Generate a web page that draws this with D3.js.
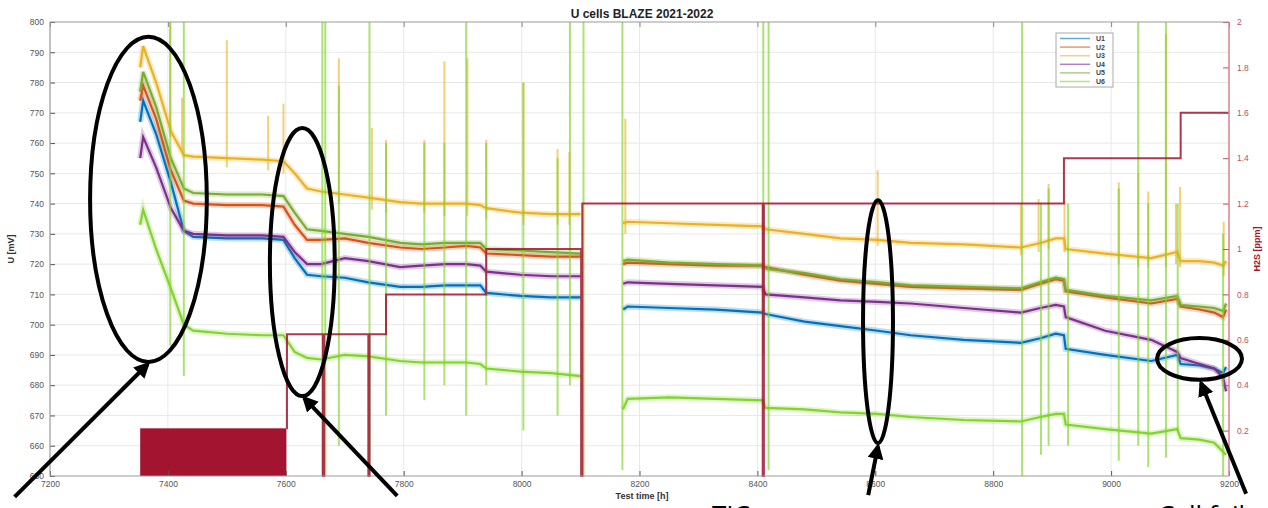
<!DOCTYPE html>
<html>
<head>
<meta charset="utf-8">
<script src="https://cdn.jsdelivr.net/npm/d3@7"></script>
<style>
html, body { margin: 0; padding: 0; background: #fff; }
svg { display: block; font-family: Arial, "Liberation Sans", sans-serif; }
</style>
</head>
<body>
<svg id="chart" width="1268" height="508"></svg>
<script>
// time axis (h), null = no data (stop 8100-8170 h)
const hours = [7353, 7358, 7380, 7405, 7427, 7443, 7500, 7560, 7596, 7615, 7636, 7660, 7700, 7740, 7794, 7830, 7870, 7906, 7930, 7940, 7998, 8050, 8100, null,
  8172, 8180, 8250, 8330, 8409, 8414, 8480, 8541, 8604, 8660, 8750, 8847, 8880, 8906, 8920, 8923, 8990, 9068, 9112, 9118, 9150, 9175, 9190, 9195];

const u1 = [767, 774, 763, 747, 731, 729, 728.5, 728.5, 728, 722, 716.5, 716, 715.5, 714, 712.5, 712.5, 713, 713, 713, 710.5, 709.5, 709, 709, null,
  705, 706, 705.5, 705, 704, 703.5, 701, 699.5, 698, 696.5, 695, 694, 695.5, 697, 696.5, 692, 690, 688, 690, 687, 686.5, 685.5, 684, 686];
const u2 = [774, 779, 768, 751, 741, 740, 739.5, 739.5, 739, 733, 728, 728, 728.5, 727, 725.5, 725, 725.5, 726, 725.5, 723.5, 723, 722.5, 722.5, null,
  720, 720.5, 720, 719.5, 719.5, 719, 716.5, 714.5, 713.5, 712.5, 712, 711.5, 713.5, 715, 714.5, 711, 709, 707, 708.5, 706, 705, 704, 702.5, 705];
const u3 = [785, 792, 780, 764, 756, 755.5, 755, 754.5, 754, 750, 745, 744, 743, 742, 740.5, 740, 740, 740, 739.5, 738.5, 737, 736.5, 736.5, null,
  733.5, 734, 733.5, 733, 732.5, 731.5, 730, 728.5, 728, 727, 726.5, 725.5, 727, 728.5, 728.5, 725, 723.5, 722, 724, 721, 721, 720.5, 719.5, 721];
const u4 = [755, 762, 752, 738.5, 731, 730, 729.5, 729.5, 729, 724, 720, 720, 722, 721, 719, 719.5, 720, 720, 719.5, 717.5, 716.5, 716, 716, null,
  713.5, 714, 713.5, 713, 712.5, 710, 709, 708, 707.5, 707, 705.5, 704, 705.5, 706.5, 706, 702.5, 698, 695, 691, 689, 687, 685.5, 682.5, 678];
const u5 = [777, 783.5, 772, 755, 745, 743.5, 743, 743, 742.5, 737, 731.5, 731, 730, 729, 727, 726.5, 727, 727, 727, 725, 724.5, 724, 723.5, null,
  721, 721.5, 720.5, 720, 719.5, 718.5, 717, 715, 714, 713, 712.5, 712, 714, 715.5, 715, 711.5, 709.5, 708, 709.5, 706.5, 706, 705.5, 704.5, 707];
const u6 = [733, 738, 725, 712, 700, 698, 697, 696.5, 696.5, 691, 689, 688.5, 690, 689.5, 688, 687.5, 687.5, 687.5, 687, 685.5, 684.5, 684, 683, null,
  672, 675.5, 676, 675.5, 675, 672.5, 672, 671, 670.5, 669.5, 668.5, 668, 669.5, 670.5, 670.5, 667, 665.5, 664, 665.5, 662.5, 662, 661, 658, 657];

const seriesNames = ['U1', 'U2', 'U3', 'U4', 'U5', 'U6'];
const seriesColors = ['#0072BD', '#D95319', '#EDB120', '#7E2F8E', '#77AC30', '#80D42A'];

// U6 disturbance spikes: hour, low, high (mV)
const u6SpikeHours = [7404, 7427, 7662, 7667, 7690, 7742, 7770, 7835, 7869, 7906, 7940, 8003, 8061, 8082, 8105, 8171, 8410, 8419, 8849, 8881, 8894, 8927, 9013, 9046, 9063, 9093, 9113, 9190];
const u6SpikeLow = [693, 683, 650, 650, 660, 650, 670, 675, 680, 670, 680, 665, 670, 680, 650, 652, 690, 652, 650, 657, 660, 660, 655, 660, 653, 656, 665, 650];
const u6SpikeHigh = [800, 800, 800, 800, 779, 800, 760, 760, 760, 800, 760, 780, 755, 800, 800, 800, 800, 800, 800, 740, 745, 740, 745, 800, 740, 800, 740, 730];

// U3 spikes: hour, low, high (mV)
const u3SpikeHours = [7404, 7424, 7500, 7570, 7596, 7690, 7746, 7770, 7835, 7869, 7908, 7940, 8003, 8061, 8081, 8176, 8604, 8847, 8877, 8894, 8921, 9013, 9046, 9063, 9093, 9110, 9117, 9191];
const u3SpikeLow = [762, 757, 752, 751, 750, 740, 738, 737, 737, 736, 736, 735, 733, 733, 733, 730, 726, 723, 724, 725, 724, 720, 719, 719, 719, 720, 719, 716];
const u3SpikeHigh = [800, 775, 794, 769, 773, 788, 765, 761, 761, 787, 788, 761, 780, 758, 757, 768, 751, 740, 741.5, 746.5, 741, 747, 750, 744, 796, 740, 745.5, 734];

// H2S dosing (ppm), step after
const h2sHours = [7601, 7602, 7663, 7665, 7740, 7742, 7770, 7940, 8101, 8103, 8409, 8411, 8920, 9118, 9200];
const h2sValues = [0.21, 0.625, 0, 0.625, 0, 0.625, 0.8, 1.0, 0, 1.2, 0, 1.2, 1.4, 1.6, 1.6];
// noisy H2S signal before 7600 h
const h2sNoiseHours = [7353, 7601];
const h2sNoiseRange = [0, 0.21];

const xTicks = d3.range(7200, 9201, 200);
const yTicks = d3.range(650, 801, 10);
const yRTicks = d3.range(0.2, 2.01, 0.2);

// annotations in data units: centre hour, centre mV, half width (h), half height (mV)
const ellipses = [[7367, 741.4, 99, 53.7], [7628, 720.7, 55, 44.3], [8604.6, 701, 25.4, 40.1], [9150, 688.7, 72, 6.9]];
// arrows: tail hour, tail mV, head hour, head mV
const arrows = [[7140, 643.1, 7366, 687.0], [7789, 643.4, 7631, 675.8], [8588, 643.7, 8604.6, 659.9], [9229, 644.1, 9152.5, 680.7]];

const svg = d3.select('#chart');
const pLeft = 50, pRight = 1229, pTop = 22, pBottom = 476;

const x = d3.scaleLinear().domain([7200, 9200]).range([pLeft, pRight]);
const y = d3.scaleLinear().domain([650, 800]).range([pBottom, pTop]);
const yR = d3.scaleLinear().domain([0, 2]).range([pBottom, pTop]);

// grid
const grid = svg.append('g').attr('stroke', '#e8e8e8').attr('stroke-width', 1);
grid.selectAll('.gx').data(xTicks.slice(1, -1)).join('line').attr('class', 'gx')
  .attr('x1', d => x(d)).attr('x2', d => x(d)).attr('y1', pTop).attr('y2', pBottom);
grid.selectAll('.gy').data(yTicks.slice(1, -1)).join('line').attr('class', 'gy')
  .attr('x1', pLeft).attr('x2', pRight).attr('y1', d => y(d)).attr('y2', d => y(d));

const plot = svg.append('g');
const series = [u1, u2, u3, u4, u5, u6];

const line = d3.line()
  .defined((d, i) => hours[i] != null && d != null)
  .x((d, i) => x(hours[i]))
  .y(d => y(d));

const drawSpikes = (hs, lo, hi, color, op) =>
  plot.append('g').selectAll('line').data(hs).join('line')
    .attr('x1', d => x(d)).attr('x2', d => x(d))
    .attr('y1', (d, i) => y(lo[i])).attr('y2', (d, i) => y(hi[i]))
    .attr('stroke', color).attr('stroke-width', 2).attr('opacity', op);

series.forEach((vals, k) => {
  // wide faint band stands in for the measurement noise
  plot.append('path').datum(vals)
    .attr('d', line).attr('fill', 'none')
    .attr('stroke', seriesColors[k]).attr('stroke-width', 6).attr('opacity', 0.25);
  plot.append('path').datum(vals)
    .attr('d', line).attr('fill', 'none')
    .attr('stroke', seriesColors[k]).attr('stroke-width', 2.2);
  if (k === 2) drawSpikes(u3SpikeHours, u3SpikeLow, u3SpikeHigh, seriesColors[2], 0.6);
  if (k === 5) drawSpikes(u6SpikeHours, u6SpikeLow, u6SpikeHigh, seriesColors[5], 0.65);
});

// H2S
plot.append('rect')
  .attr('x', x(h2sNoiseHours[0])).attr('width', x(h2sNoiseHours[1]) - x(h2sNoiseHours[0]))
  .attr('y', yR(h2sNoiseRange[1])).attr('height', yR(h2sNoiseRange[0]) - yR(h2sNoiseRange[1]))
  .attr('fill', '#A2142F');
plot.append('path')
  .datum(h2sHours.map((h, i) => [h, h2sValues[i]]))
  .attr('d', d3.line().curve(d3.curveStepAfter).x(d => x(d[0])).y(d => yR(d[1])))
  .attr('fill', 'none').attr('stroke', '#A2142F').attr('stroke-width', 2).attr('opacity', 0.85);

// axes
const axisStyle = (g, color) => {
  g.select('.domain').remove();
  g.selectAll('line').attr('stroke', color);
  g.selectAll('text').attr('fill', color).style('font-size', '8.5px');
};
svg.append('g').attr('transform', `translate(0,${pBottom})`)
  .call(d3.axisBottom(x).tickValues(xTicks).tickSize(-5).tickPadding(5).tickFormat(d3.format('d')))
  .call(g => axisStyle(g, '#555'));
svg.append('g').attr('transform', `translate(0,${pTop})`)
  .call(d3.axisTop(x).tickValues(xTicks).tickSize(-5).tickFormat(''))
  .call(g => axisStyle(g, '#888'));
svg.append('g').attr('transform', `translate(${pLeft},0)`)
  .call(d3.axisLeft(y).tickValues(yTicks).tickSize(-5).tickPadding(6).tickFormat(d3.format('d')))
  .call(g => axisStyle(g, '#555'));
svg.append('g').attr('transform', `translate(${pRight},0)`)
  .call(d3.axisRight(yR).tickValues(yRTicks).tickSize(-6).tickPadding(8).tickFormat(d3.format('~g')))
  .call(g => axisStyle(g, '#c0505f'));

svg.append('path')
  .attr('d', `M${pRight},${pTop}H${pLeft}V${pBottom}H${pRight}`)
  .attr('fill', 'none').attr('stroke', '#9a9a9a').attr('stroke-width', 1.2);
svg.append('line').attr('x1', pRight).attr('x2', pRight).attr('y1', pTop).attr('y2', pBottom)
  .attr('stroke', '#d9808f').attr('stroke-width', 1.5);

// titles
svg.append('text').attr('x', 642).attr('y', 18).attr('text-anchor', 'middle')
  .style('font-size', '12px').style('font-weight', 'bold').attr('fill', '#222')
  .text('U cells BLAZE 2021-2022');
svg.append('text').attr('x', 642).attr('y', 499).attr('text-anchor', 'middle')
  .style('font-size', '9px').style('font-weight', 'bold').attr('fill', '#333')
  .text('Test time [h]');
svg.append('text').attr('transform', `translate(14,${(pTop + pBottom) / 2}) rotate(-90)`)
  .attr('text-anchor', 'middle').style('font-size', '9px').style('font-weight', 'bold').attr('fill', '#333')
  .text('U [mV]');
svg.append('text').attr('transform', `translate(1260,${(pTop + pBottom) / 2}) rotate(-90)`)
  .attr('text-anchor', 'middle').style('font-size', '9px').style('font-weight', 'bold').attr('fill', '#A2142F')
  .text('H2S [ppm]');

// legend
const legend = svg.append('g').attr('transform', 'translate(1056,33)');
legend.append('rect').attr('width', 57).attr('height', 54)
  .attr('fill', '#fff').attr('stroke', '#aaa').attr('stroke-width', 1);
const entry = legend.selectAll('g').data(seriesNames).join('g')
  .attr('transform', (d, i) => `translate(0,${5.5 + i * 8.6})`);
entry.append('line').attr('x1', 4).attr('x2', 34)
  .attr('stroke', (d, i) => seriesColors[i]).attr('stroke-width', 1.5).attr('opacity', 0.6);
entry.append('text').attr('x', 40).attr('dy', '0.35em')
  .style('font-size', '7px').style('font-weight', 'bold').attr('fill', '#444').text(d => d);

// annotations
const ann = svg.append('g').attr('fill', 'none').attr('stroke', '#000').attr('stroke-width', 4);
ann.selectAll('ellipse').data(ellipses).join('ellipse')
  .attr('cx', d => x(d[0])).attr('cy', d => y(d[1]))
  .attr('rx', d => x(d[0] + d[2]) - x(d[0])).attr('ry', d => y(d[1]) - y(d[1] + d[3]));

svg.append('defs').append('marker').attr('id', 'head')
  .attr('viewBox', '0 0 10 10').attr('refX', 8).attr('refY', 5)
  .attr('markerWidth', 4).attr('markerHeight', 4).attr('orient', 'auto')
  .append('path').attr('d', 'M0,0L10,5L0,10z').attr('fill', '#000');
ann.selectAll('line').data(arrows).join('line')
  .attr('x1', d => x(d[0])).attr('y1', d => y(d[1]))
  .attr('x2', d => x(d[2])).attr('y2', d => y(d[3]))
  .attr('marker-end', 'url(#head)');

// slide text that the screenshot cuts at the bottom
svg.append('text').attr('x', 712).attr('y', 524).style('font-size', '26px')
  .style('font-family', '"Open Sans", sans-serif').attr('fill', '#000').text('TIC');
svg.append('text').attr('x', 1158).attr('y', 524).style('font-size', '26px')
  .style('font-family', '"Open Sans", sans-serif').attr('fill', '#000').text('Cell failure');
</script>
</body>
</html>
